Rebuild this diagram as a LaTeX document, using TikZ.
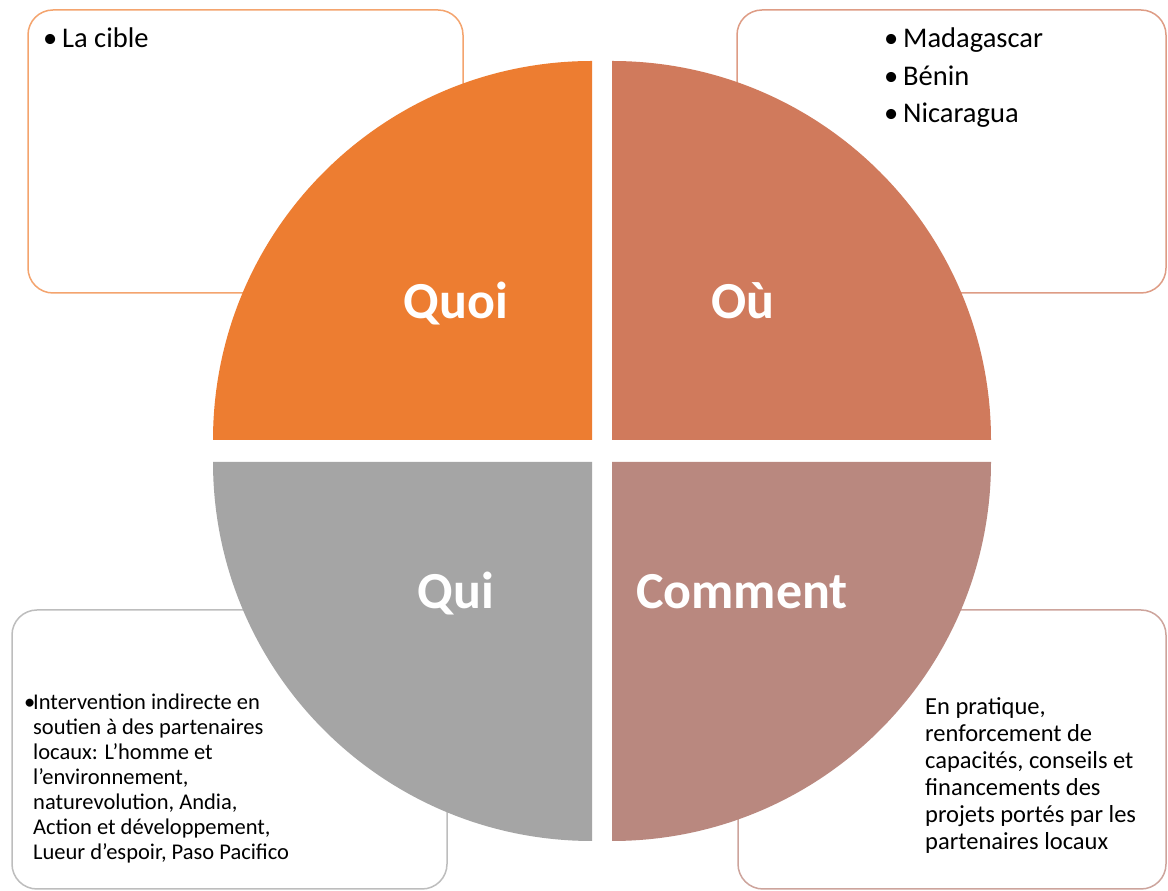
\documentclass[tikz,border=0pt]{standalone}
\usepackage{fontspec}
\setmainfont{Carlito}
\definecolor{quoiC}{HTML}{ED7D31}
\definecolor{ouC}{HTML}{D07A5C}
\definecolor{quiC}{HTML}{A5A5A5}
\definecolor{commC}{HTML}{B9887F}
\definecolor{quoiB}{HTML}{F4A46E}
\definecolor{ouB}{HTML}{DE9C85}
\definecolor{quiB}{HTML}{BDBDBD}
\definecolor{commB}{HTML}{CDA49C}
\tikzset{
  box/.style={draw, fill=white, line width=1.5pt, rounded corners=25pt, inner sep=0pt},
  qlabel/.style={text=white, font=\fontsize{52}{60}\selectfont\bfseries, anchor=base, inner sep=0pt},
  btext/.style={align=left, inner sep=0pt, anchor=base west, text=black},
}
\begin{document}
\begin{tikzpicture}[x=1pt,y=1pt]
\useasboundingbox[fill=white] (0,0) rectangle (1168,891);
% boxes
\node[box, draw=quoiB, minimum width=435pt, minimum height=283pt] (boxQuoi) at (245.5,739.5) {};
\node[box, draw=ouB, minimum width=429pt, minimum height=283pt] (boxOu) at (951.5,739.5) {};
\node[box, draw=quiB, minimum width=435pt, minimum height=279pt] (boxQui) at (229.5,141.5) {};
\node[box, draw=commB, minimum width=428pt, minimum height=279pt] (boxComm) at (952,141.5) {};
% quadrants
\fill[quoiC] (592,451) -- (213,451) arc[start angle=180,end angle=90,radius=379] -- cycle;
\fill[ouC] (612,451) -- (612,830) arc[start angle=90,end angle=0,radius=379] -- cycle;
\fill[quiC] (592,429) -- (213,429) arc[start angle=180,end angle=270,radius=379] -- cycle;
\fill[commC] (612,429) -- (612,50) arc[start angle=270,end angle=360,radius=379] -- cycle;
% labels
\node[qlabel] (lQuoi) at (456,572) {Quoi};
\node[qlabel] (lOu) at (743,572) {Où};
\node[qlabel] (lQui) at (456,282) {Qui};
\node[qlabel] (lComm) at (742,282) {Comment};
% texts
\node[btext, font=\fontsize{28.5}{37.5}\selectfont] (tQuoi) at (43,843) {\makebox[19pt][l]{•}La cible};
\node[btext, font=\fontsize{28.5}{37.5}\selectfont] (tOu) at (884,768)
  {\makebox[19pt][l]{•}Madagascar\\\makebox[19pt][l]{•}Bénin\\\makebox[19pt][l]{•}Nicaragua};
\node[btext, font=\fontsize{22.5}{25}\selectfont] (tQui) at (24,31)
  {\makebox[9pt][l]{•}Intervention indirecte en\\
   \hspace*{9pt}soutien à des partenaires\\
   \hspace*{9pt}locaux: L’homme et\\
   \hspace*{9pt}l’environnement,\\
   \hspace*{9pt}naturevolution, Andia,\\
   \hspace*{9pt}Action et développement,\\
   \hspace*{9pt}Lueur d’espoir, Paso Pacifico};
\node[btext, font=\fontsize{24.5}{27}\selectfont] (tComm) at (925,41)
  {En pratique,\\renforcement de\\capacités, conseils et\\financements des\\projets portés par les\\partenaires locaux};
\end{tikzpicture}
\end{document}
